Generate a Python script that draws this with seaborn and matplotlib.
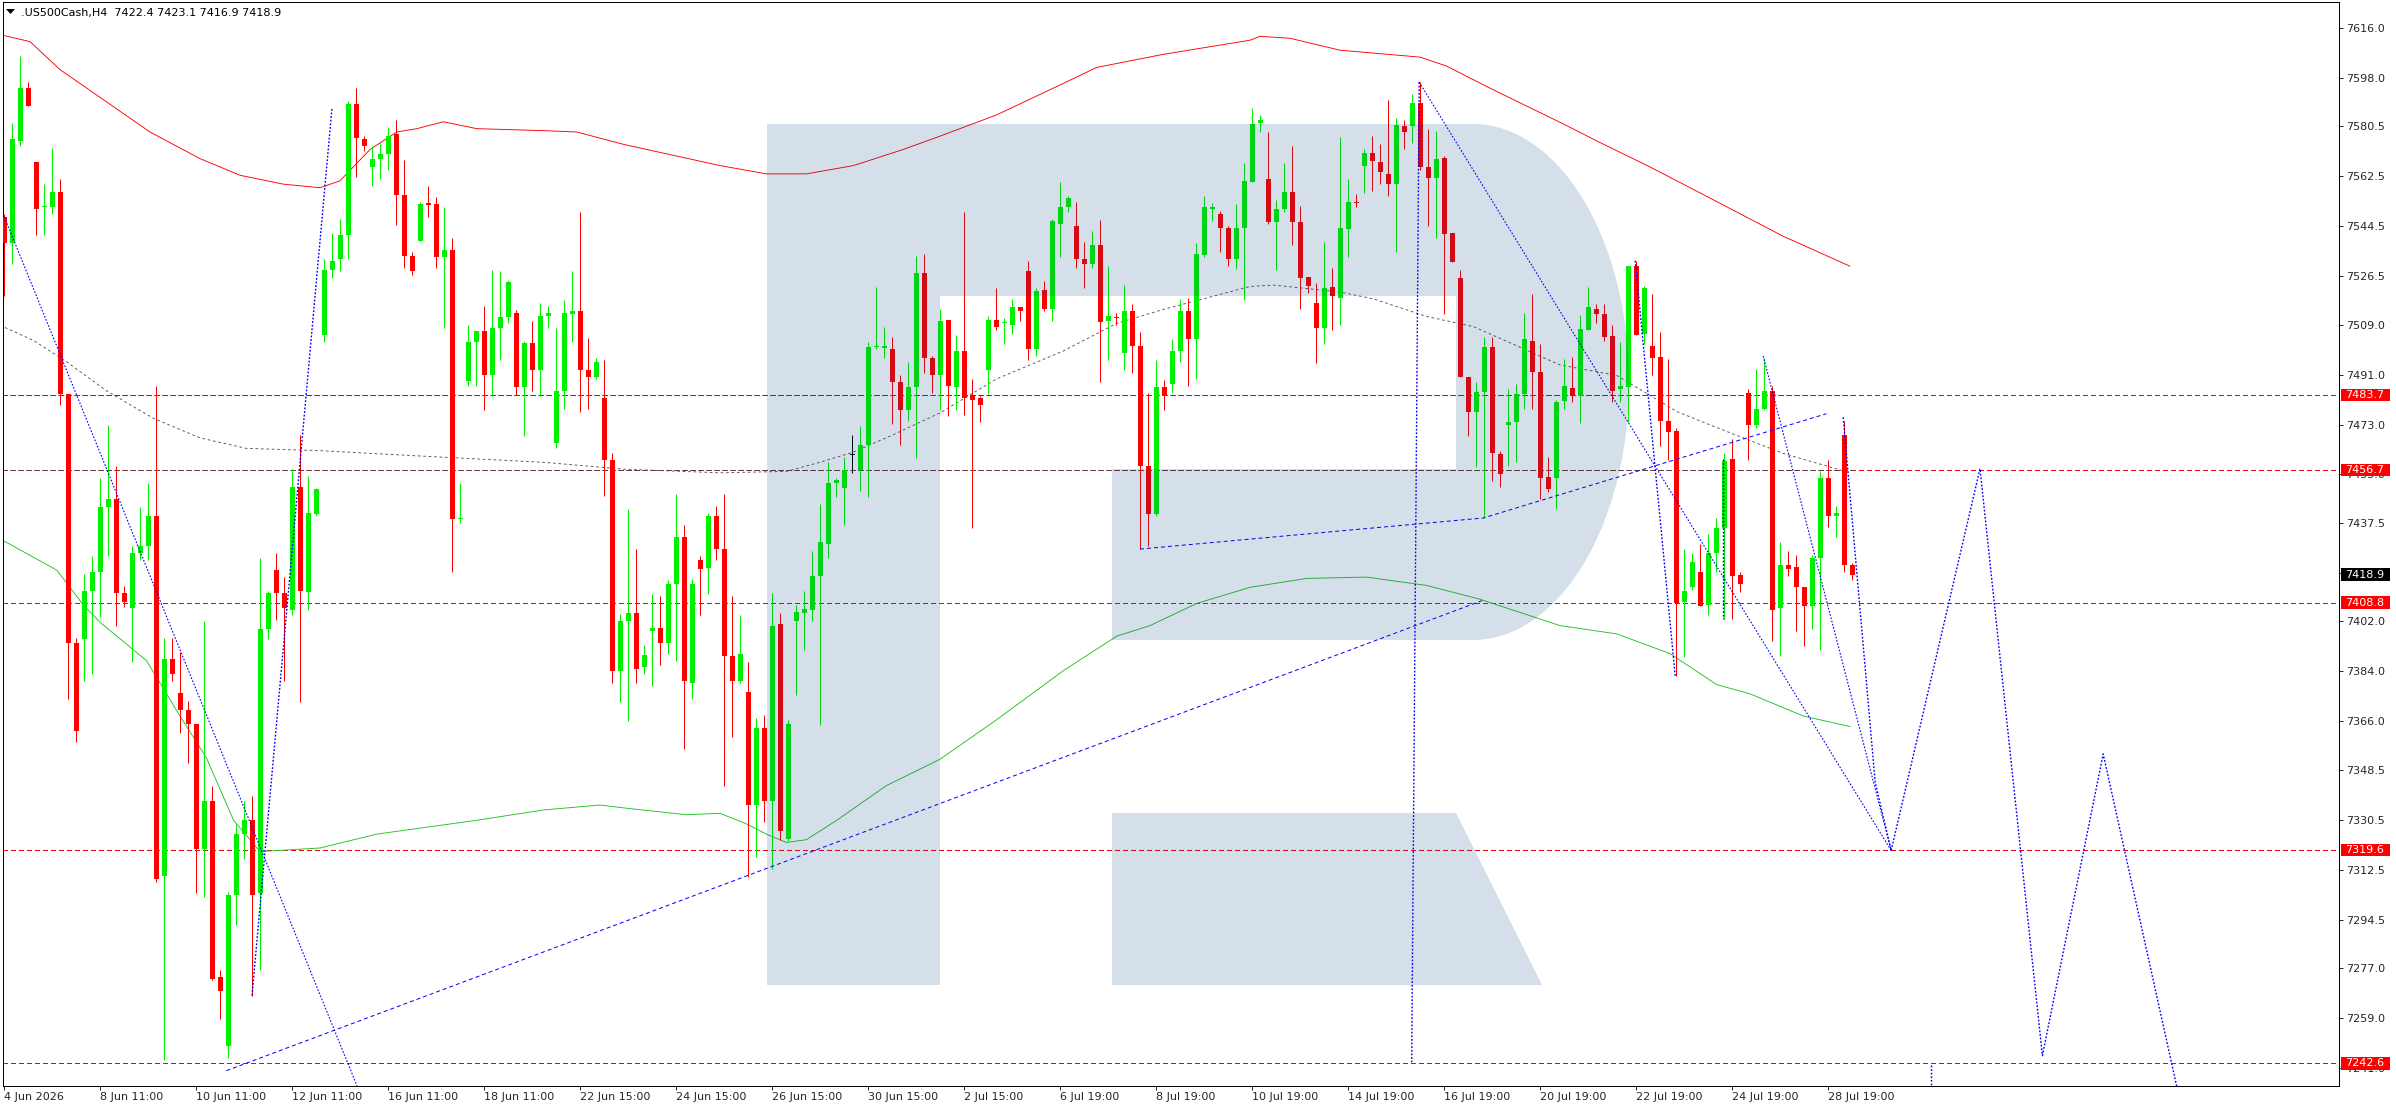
import numpy as np
import matplotlib
matplotlib.use("Agg")
import matplotlib.pyplot as plt
import matplotlib.transforms as mtransforms
from matplotlib.patches import Polygon, Rectangle
import seaborn as sns

# ---- candles (H4) ----
opens = [
    7547.9, 7538.4, 7575.2, 7594.3, 7567.7, 7551.4, 7551.4, 7556.9, 7484.0, 7394.2,
    7395.5, 7413.0, 7419.8, 7443.1, 7446.1, 7412.3, 7406.7, 7426.8, 7429.3, 7440.1,
    7310.2, 7388.4, 7376.2, 7369.9, 7364.9, 7319.8, 7337.3, 7273.9, 7248.8, 7303.2,
    7325.3, 7330.3, 7304.0, 7399.2, 7420.5, 7412.3, 7406.0, 7450.6, 7412.5, 7440.6,
    7505.3, 7528.8, 7532.6, 7541.4, 7588.5, 7576.0, 7565.9, 7568.9, 7570.4, 7577.7,
    7555.9, 7533.8, 7539.1, 7552.9, 7552.6, 7533.3, 7535.8, 7438.8, 7488.7, 7502.8,
    7506.8, 7490.7, 7507.8, 7511.8, 7513.3, 7486.7, 7502.5, 7492.7, 7512.0, 7466.2,
    7485.2, 7513.0, 7514.0, 7492.7, 7490.2, 7482.7, 7460.1, 7384.2, 7402.2, 7405.0,
    7385.4, 7398.7, 7399.7, 7394.2, 7415.5, 7432.3, 7379.9, 7424.0, 7421.3, 7440.1,
    7428.0, 7389.7, 7380.4, 7376.7, 7335.8, 7363.6, 7337.3, 7401.0, 7323.5, 7402.2,
    7405.0, 7406.0, 7418.5, 7430.0, 7451.9, 7450.1, 7462.0, 7456.6, 7465.7, 7500.8,
    7500.5, 7500.3, 7488.2, 7478.2, 7486.7, 7527.8, 7497.0, 7490.7, 7510.8, 7486.5,
    7499.5, 7483.2, 7482.5, 7492.5, 7510.8, 7509.5, 7508.8, 7515.5, 7528.3, 7500.3,
    7521.6, 7514.5, 7545.4, 7551.4, 7544.6, 7532.6, 7530.8, 7537.9, 7510.3, 7511.8,
    7498.7, 7514.0, 7501.3, 7458.1, 7440.6, 7486.5, 7487.5, 7499.5, 7514.0, 7503.8,
    7534.1, 7550.6, 7548.9, 7543.9, 7532.6, 7543.9, 7560.4, 7581.7, 7561.7, 7545.9,
    7550.9, 7556.7, 7545.9, 7526.3, 7517.0, 7507.8, 7522.6, 7518.8, 7543.4, 7553.4,
    7566.4, 7570.9, 7567.7, 7563.4, 7559.7, 7580.5, 7580.5, 7589.0, 7565.9, 7561.9,
    7569.2, 7542.1, 7525.8, 7490.0, 7477.7, 7484.9, 7500.8, 7462.4, 7472.7, 7473.9,
    7483.9, 7503.3, 7492.0, 7454.1, 7453.6, 7481.4, 7486.2, 7483.2, 7507.0, 7514.5,
    7512.8, 7505.0, 7485.7, 7486.5, 7530.1, 7505.8, 7501.3, 7497.5, 7474.4, 7470.7,
    7409.0, 7414.3, 7419.8, 7408.0, 7426.8, 7435.6, 7460.6, 7418.8, 7484.2, 7472.7,
    7478.7, 7485.2, 7406.7, 7422.5, 7421.8, 7414.3, 7407.5, 7425.0, 7453.6, 7440.1,
    7469.4, 7422.4,
]
highs = [
    7548.9, 7581.7, 7606.0, 7596.5, 7567.7, 7559.7, 7572.7, 7561.7, 7484.0, 7396.0,
    7419.0, 7425.5, 7453.6, 7472.7, 7458.1, 7414.8, 7429.3, 7443.1, 7451.9, 7487.0,
    7395.9, 7395.9, 7390.9, 7373.4, 7364.9, 7402.2, 7342.8, 7276.4, 7304.4, 7329.0,
    7337.3, 7339.0, 7425.0, 7413.0, 7426.8, 7418.0, 7456.9, 7469.4, 7454.4, 7450.0,
    7532.8, 7542.1, 7547.1, 7589.7, 7594.3, 7577.0, 7573.5, 7574.7, 7580.2, 7582.7,
    7568.4, 7535.3, 7553.4, 7559.2, 7555.1, 7551.4, 7540.1, 7451.9, 7509.0, 7506.8,
    7515.8, 7528.8, 7528.3, 7525.1, 7514.3, 7503.3, 7510.3, 7517.0, 7515.8, 7507.8,
    7517.8, 7528.3, 7549.6, 7504.3, 7497.0, 7496.2, 7462.6, 7404.7, 7442.6, 7428.0,
    7393.4, 7411.8, 7411.3, 7416.8, 7448.1, 7436.8, 7417.3, 7425.5, 7441.1, 7443.6,
    7448.1, 7411.3, 7404.2, 7387.4, 7367.1, 7368.4, 7412.3, 7405.0, 7366.6, 7408.0,
    7413.0, 7427.3, 7444.3, 7459.4, 7453.6, 7461.4, 7469.4, 7472.4, 7502.8, 7522.6,
    7508.3, 7504.5, 7490.7, 7495.7, 7533.8, 7534.6, 7497.7, 7514.5, 7510.8, 7505.3,
    7549.6, 7489.5, 7483.2, 7512.0, 7522.1, 7511.5, 7518.3, 7515.5, 7532.1, 7522.1,
    7524.8, 7547.1, 7560.4, 7555.4, 7553.4, 7538.9, 7542.9, 7546.6, 7530.1, 7513.3,
    7523.3, 7516.3, 7506.5, 7484.5, 7496.2, 7489.0, 7503.8, 7518.3, 7518.8, 7538.4,
    7555.4, 7552.9, 7550.1, 7544.6, 7552.6, 7567.2, 7587.2, 7584.7, 7578.5, 7553.9,
    7567.2, 7573.5, 7551.9, 7526.3, 7524.1, 7538.9, 7529.6, 7576.7, 7561.7, 7556.1,
    7572.2, 7577.0, 7574.2, 7590.2, 7583.5, 7583.0, 7592.2, 7596.5, 7579.7, 7579.0,
    7569.9, 7542.1, 7528.8, 7490.0, 7488.2, 7504.5, 7504.5, 7463.6, 7485.7, 7487.7,
    7513.3, 7520.1, 7502.0, 7461.4, 7481.9, 7496.5, 7497.5, 7512.5, 7522.6, 7516.5,
    7516.5, 7508.8, 7502.8, 7530.1, 7532.1, 7522.8, 7520.1, 7506.3, 7496.5, 7471.9,
    7428.0, 7426.8, 7430.0, 7433.5, 7439.3, 7462.6, 7467.7, 7419.8, 7485.7, 7493.2,
    7497.0, 7487.0, 7430.5, 7427.3, 7426.0, 7414.3, 7426.0, 7456.1, 7460.1, 7443.6,
    7474.4, 7423.1,
]
lows = [
    7519.5, 7530.8, 7573.5, 7588.0, 7541.4, 7541.4, 7548.9, 7480.2, 7374.1, 7358.4,
    7380.4, 7382.9, 7403.5, 7425.5, 7400.5, 7407.2, 7387.2, 7424.3, 7424.3, 7308.2,
    7243.8, 7380.4, 7361.6, 7350.8, 7303.9, 7302.7, 7272.6, 7258.8, 7244.5, 7292.7,
    7316.5, 7267.1, 7276.4, 7395.5, 7402.5, 7380.4, 7404.2, 7373.0, 7406.0, 7440.0,
    7502.8, 7525.8, 7528.3, 7532.8, 7562.2, 7571.7, 7558.9, 7561.4, 7564.7, 7545.1,
    7529.3, 7527.1, 7539.1, 7547.9, 7529.6, 7507.8, 7419.8, 7437.6, 7487.0, 7487.0,
    7478.2, 7483.2, 7496.2, 7509.5, 7483.7, 7468.9, 7485.2, 7483.2, 7507.8, 7464.4,
    7478.7, 7502.8, 7477.4, 7478.7, 7489.5, 7447.4, 7379.7, 7372.9, 7366.1, 7379.7,
    7382.9, 7378.7, 7386.2, 7390.4, 7387.9, 7356.1, 7374.1, 7404.2, 7411.8, 7424.3,
    7342.8, 7360.4, 7379.9, 7309.7, 7317.2, 7329.5, 7312.7, 7323.3, 7322.8, 7375.4,
    7391.7, 7402.2, 7364.6, 7424.8, 7446.9, 7436.8, 7455.6, 7448.9, 7446.9, 7500.3,
    7497.0, 7473.2, 7465.7, 7474.4, 7461.1, 7491.5, 7484.5, 7478.2, 7476.2, 7478.2,
    7476.4, 7435.6, 7473.9, 7484.0, 7507.0, 7502.0, 7505.8, 7510.3, 7496.2, 7497.7,
    7513.8, 7510.3, 7533.3, 7549.6, 7529.6, 7522.1, 7529.6, 7488.2, 7496.2, 7508.8,
    7492.7, 7491.5, 7428.1, 7429.3, 7440.1, 7478.2, 7484.5, 7495.7, 7487.0, 7489.5,
    7533.3, 7546.4, 7535.3, 7530.1, 7529.1, 7517.8, 7560.4, 7578.5, 7545.4, 7528.8,
    7549.6, 7537.9, 7514.5, 7520.3, 7495.2, 7502.0, 7507.0, 7508.8, 7533.3, 7551.4,
    7556.4, 7557.2, 7559.7, 7555.4, 7535.3, 7572.2, 7574.7, 7564.7, 7544.6, 7540.1,
    7512.8, 7531.6, 7490.0, 7468.7, 7457.6, 7439.3, 7452.6, 7450.6, 7458.1, 7459.4,
    7478.7, 7478.7, 7446.1, 7448.6, 7442.6, 7478.7, 7481.2, 7473.7, 7507.0, 7509.5,
    7503.3, 7481.2, 7481.2, 7473.9, 7505.3, 7502.0, 7490.7, 7465.2, 7460.1, 7382.4,
    7389.2, 7413.5, 7407.5, 7404.2, 7420.0, 7403.0, 7403.0, 7412.5, 7460.1, 7471.9,
    7478.2, 7395.0, 7389.7, 7418.5, 7398.5, 7393.0, 7399.2, 7391.7, 7436.1, 7432.6,
    7420.0, 7416.9,
]
closes = [
    7538.4, 7576.0, 7594.3, 7588.0, 7550.9, 7551.9, 7556.9, 7484.0, 7394.2, 7362.4,
    7413.0, 7419.8, 7443.1, 7446.1, 7412.3, 7409.0, 7426.8, 7429.3, 7440.1, 7309.0,
    7388.4, 7382.9, 7369.9, 7364.9, 7319.8, 7337.3, 7273.1, 7268.9, 7303.2, 7325.3,
    7330.3, 7303.2, 7399.2, 7412.3, 7412.3, 7406.7, 7450.6, 7413.0, 7441.1, 7449.9,
    7528.8, 7532.1, 7541.4, 7588.5, 7576.5, 7573.5, 7568.9, 7570.4, 7577.2, 7555.9,
    7533.8, 7528.3, 7552.6, 7552.1, 7533.3, 7535.8, 7438.8, 7439.3, 7502.8, 7506.8,
    7490.7, 7507.8, 7511.8, 7524.3, 7486.7, 7502.5, 7492.7, 7512.0, 7513.3, 7485.2,
    7513.3, 7514.0, 7492.7, 7490.2, 7495.7, 7460.1, 7384.2, 7402.2, 7405.0, 7384.9,
    7389.9, 7399.7, 7394.2, 7415.5, 7432.3, 7380.4, 7415.5, 7421.0, 7440.1, 7428.0,
    7389.7, 7380.4, 7390.4, 7335.8, 7363.6, 7337.3, 7400.5, 7326.5, 7364.9, 7405.5,
    7406.5, 7418.5, 7430.5, 7451.9, 7453.1, 7456.6, 7462.0, 7465.7, 7500.8, 7501.5,
    7501.5, 7488.2, 7478.2, 7486.7, 7527.8, 7497.0, 7490.7, 7510.3, 7487.0, 7499.5,
    7482.7, 7482.0, 7480.2, 7510.8, 7508.3, 7509.8, 7515.5, 7513.8, 7500.3, 7521.3,
    7514.5, 7546.4, 7551.4, 7554.6, 7532.8, 7530.8, 7537.9, 7510.0, 7512.0, 7511.3,
    7514.0, 7501.3, 7458.1, 7440.6, 7486.5, 7483.2, 7499.5, 7514.0, 7503.8, 7534.6,
    7551.4, 7551.4, 7543.9, 7532.6, 7543.9, 7560.9, 7581.5, 7583.0, 7545.9, 7550.9,
    7556.7, 7545.9, 7525.8, 7522.8, 7507.8, 7522.1, 7519.3, 7543.9, 7553.4, 7552.9,
    7570.9, 7567.9, 7563.9, 7559.7, 7581.0, 7578.5, 7589.0, 7565.9, 7561.9, 7568.9,
    7541.6, 7531.6, 7490.0, 7477.7, 7484.9, 7500.8, 7462.6, 7455.1, 7473.9, 7483.9,
    7503.8, 7492.0, 7453.6, 7449.9, 7481.2, 7487.0, 7483.2, 7507.5, 7515.3, 7513.0,
    7504.5, 7485.2, 7487.0, 7530.1, 7505.3, 7522.1, 7497.0, 7474.4, 7470.2, 7408.5,
    7413.0, 7423.5, 7407.5, 7426.8, 7435.6, 7459.9, 7418.5, 7415.5, 7472.7, 7478.7,
    7485.0, 7406.0, 7422.5, 7421.0, 7414.3, 7407.5, 7425.0, 7453.6, 7440.1, 7441.1,
    7422.5, 7418.9,
]

date_labels = ["4 Jun 2026", "8 Jun 11:00", "10 Jun 11:00", "12 Jun 11:00", "16 Jun 11:00",
               "18 Jun 11:00", "22 Jun 15:00", "24 Jun 15:00", "26 Jun 15:00", "30 Jun 15:00",
               "2 Jul 15:00", "6 Jul 19:00", "8 Jul 19:00", "10 Jul 19:00", "14 Jul 19:00",
               "16 Jul 19:00", "20 Jul 19:00", "22 Jul 19:00", "24 Jul 19:00", "28 Jul 19:00"]
price_ticks = [7616.0, 7598.0, 7580.5, 7562.5, 7544.5, 7526.5, 7509.0, 7491.0, 7473.0, 7455.0,
               7437.5, 7419.5, 7402.0, 7384.0, 7366.0, 7348.5, 7330.5, 7312.5, 7294.5, 7277.0,
               7259.0, 7241.0]
levels = [7483.7, 7456.7, 7408.8, 7319.6, 7242.6]
last_price = 7418.9
header = ".US500Cash,H4  7422.4 7423.1 7416.9 7418.9"

# ---- moving averages (bar index, price) ----
ma_red_x = [-0.5, 3.25, 7, 12, 18.25, 24.5, 29.5, 34.9, 39.5, 42, 45.75, 49.1, 51.6, 54.9, 59.1,
            67.4, 71.6, 77.5, 89.5, 95.3, 100.3, 106.2, 112.4, 117, 124.1, 132.4, 136.6, 144.9,
            155.75, 157, 160.75, 167, 177, 180.3, 185.75, 194.5, 199.5, 205.75, 214.1, 222.4, 230.75]
ma_red_y = [7613.6, 7611.1, 7601.0, 7591.0, 7578.5, 7568.9, 7562.9, 7559.7, 7558.4, 7560.9, 7572.2,
            7578.5, 7579.7, 7582.2, 7579.7, 7579.0, 7578.5, 7574.0, 7566.4, 7563.4, 7563.4, 7566.4,
            7572.2, 7577.0, 7584.7, 7596.0, 7601.8, 7606.5, 7611.6, 7613.0, 7612.3, 7608.0, 7605.5,
            7602.3, 7594.3, 7582.0, 7574.7, 7565.9, 7553.4, 7540.9, 7530.1]
ma_green_x = [-0.5, 6.6, 9.9, 12, 17.8, 22, 25.3, 28.7, 32, 39.5, 46.6, 59.1, 67.4, 74.5, 78.25,
              85.3, 89.5, 92.8, 95.3, 97.8, 100.3, 104.1, 110.3, 117, 124.1, 132.4, 139.1, 143.25,
              149.1, 155.75, 162.8, 170.3, 177.8, 184.5, 194.5, 201.6, 208.25, 214.1, 218.25,
              224.9, 230.75]
ma_green_y = [7431.8, 7420.5, 7408.0, 7401.7, 7387.9, 7367.9, 7352.8, 7330.3, 7319.0, 7320.3,
              7325.3, 7330.3, 7334.0, 7335.8, 7334.5, 7332.3, 7332.8, 7329.0, 7325.3, 7322.3,
              7323.3, 7330.3, 7342.8, 7352.3, 7366.6, 7384.2, 7396.7, 7400.5, 7408.5, 7414.3,
              7417.5, 7418.0, 7415.0, 7410.0, 7400.5, 7397.5, 7390.4, 7379.2, 7375.9, 7367.9,
              7364.1]
ma_gray_x = [-0.5, 3.7, 7.8, 12.8, 18.7, 24.5, 30.3, 39.5, 45.75, 55.75, 67.4, 77.5, 89.5, 97.8,
             102, 106.2, 111.2, 117, 124.1, 132.4, 139.1, 144.9, 155.75, 158.7, 167, 171.2, 177.8,
             183.7, 194.5, 201.6, 209.1, 214.1, 222.4, 230.75]
ma_gray_y = [7508.8, 7503.3, 7495.7, 7485.2, 7475.2, 7468.2, 7464.4, 7463.6, 7462.6, 7461.1,
             7459.4, 7456.9, 7455.6, 7456.1, 7459.4, 7463.1, 7469.4, 7477.2, 7489.5, 7499.5,
             7509.5, 7514.5, 7522.8, 7523.3, 7520.8, 7518.3, 7512.0, 7508.3, 7494.5, 7490.7,
             7477.7, 7471.9, 7462.6, 7455.6]

# ---- blue analysis lines (bar index, price) ----
trend_a_x, trend_a_y = [-0.1, 45.0], [7548.9, 7228.3]
zig_b_x, zig_b_y = [31, 41], [7267.1, 7587.2]
trend_c_x, trend_c_y = [27.8, 184.75], [7240.0, 7409.5]
trend_d_x, trend_d_y = [142, 184.9, 227.8], [7428.1, 7439.3, 7476.9]
vert_e_x, vert_e_y = [176.9, 175.96], [7596.5, 7243.0]
fall_f_x, fall_f_y = [176.9, 235.9], [7596.5, 7319.4]
fall_g_x, fall_g_y = [203.9, 208.9], [7532.1, 7382.4]
vert_h_x, vert_h_y = [214.9, 214.9], [7460.6, 7402.9]
fall_i_x, fall_i_y = [219.9, 235.9], [7497.7, 7319.4]
fall_j_x, fall_j_y = [229.9, 233.9, 235.9], [7475.6, 7344.0, 7319.4]
forecast_x = [235.9, 247.0, 254.8, 262.4, 272.0]
forecast_y = [7319.4, 7457.1, 7245.4, 7354.2, 7229.0]
vert_k_x, vert_k_y = [240.9, 240.9], [7242.0, 7228.0]

# ---- style ----
sns.set_style("white")
plt.rcParams["font.family"] = ["DejaVu Sans"]
FS = 8
PX = 0.72  # one pixel in points at 100 dpi

W, H = 2396, 1110
fig = plt.figure(figsize=(W / 100, H / 100), dpi=100)
ax = fig.add_axes([3 / W, (H - 1086) / H, 2336 / W, 1084 / H])

n = len(opens)
idx = np.arange(n)
o = np.array(opens); c = np.array(closes)
cols = np.where(c > o, "#00f000", np.where(c < o, "#ff0000", "#000000"))

# level lines
for lv in levels:
    ax.axhline(lv, color="#ff0000", lw=PX, linestyle=(0, (5, 3)), zorder=1, antialiased=False)
for lv in levels[:2]:
    ax.hlines(lv, -0.2, 231, color="#404040", lw=PX, linestyle=(0, (5, 3)), alpha=0.75,
              zorder=1.5, antialiased=False)

# moving averages
sns.lineplot(x=ma_red_x, y=ma_red_y, ax=ax, color="#ff0000", lw=0.65, estimator=None, sort=False,
             zorder=2)
sns.lineplot(x=ma_green_x, y=ma_green_y, ax=ax, color="#22c322", lw=0.65, estimator=None,
             sort=False, zorder=2)
sns.lineplot(x=ma_gray_x, y=ma_gray_y, ax=ax, color="#555555", lw=0.65, linestyle=(0, (3, 3)),
             estimator=None, sort=False, zorder=2)

# candles
ax.vlines(idx, lows, highs, colors=cols, lw=PX, zorder=3)
body_low = np.minimum(o, c)
body_h = np.maximum(np.abs(c - o), 0.4)
ax.bar(idx, body_h, bottom=body_low, width=0.625, color=cols, lw=0, zorder=3)

# blue lines
dotted = dict(color="#0000ff", lw=1.0, linestyle=(0, (1.3, 1.3)), estimator=None, sort=False, zorder=4)
fine = dict(color="#0000ff", lw=0.8, linestyle=(0, (1.5, 1.5)), estimator=None, sort=False, zorder=4)
dashed = dict(color="#0000ff", lw=PX, linestyle=(0, (4, 3)), estimator=None, sort=False, zorder=4)
sns.lineplot(x=trend_a_x, y=trend_a_y, ax=ax, **fine)
sns.lineplot(x=zig_b_x, y=zig_b_y, ax=ax, **dotted)
sns.lineplot(x=trend_c_x, y=trend_c_y, ax=ax, **dashed)
sns.lineplot(x=trend_d_x, y=trend_d_y, ax=ax, **dashed)
sns.lineplot(x=vert_e_x, y=vert_e_y, ax=ax, **dotted)
sns.lineplot(x=fall_f_x, y=fall_f_y, ax=ax, **fine)
sns.lineplot(x=fall_g_x, y=fall_g_y, ax=ax, **dotted)
sns.lineplot(x=vert_h_x, y=vert_h_y, ax=ax, **dotted)
sns.lineplot(x=fall_i_x, y=fall_i_y, ax=ax, **fine)
sns.lineplot(x=fall_j_x, y=fall_j_y, ax=ax, **dotted)
sns.lineplot(x=forecast_x, y=forecast_y, ax=ax, **dotted)
sns.lineplot(x=vert_k_x, y=vert_k_y, ax=ax, **dotted)

# axes
ax.set_xlim(-0.125, 291.875)
ax.set_ylim(7234.47, 7625.38)
ax.set_xlabel("")
ax.set_ylabel("")
ax.set_xticks(np.arange(0, n, 12))
ax.set_xticklabels(date_labels, ha="left", fontsize=FS)
ax.set_yticks(price_ticks)
ax.set_yticklabels([f"{v:.1f}" for v in price_ticks], fontsize=FS)
ax.tick_params(axis="y", left=False, right=True, labelleft=False, labelright=True,
               direction="out", length=3, width=PX, pad=2)
ax.tick_params(axis="x", bottom=True, direction="out", length=3, width=PX, pad=1.5)
for sp in ax.spines.values():
    sp.set_visible(True)
    sp.set_color("black")
    sp.set_linewidth(PX)

# price boxes on the scale
blend = mtransforms.blended_transform_factory(ax.transAxes, ax.transData)
fx = lambda px: (px - 3) / 2336
for lv, fc in [(v, "#ff0000") for v in levels] + [(last_price, "#000000")]:
    ax.add_patch(Rectangle((fx(2341), lv - 2.2), 49 / 2336, 4.4, transform=blend,
                           facecolor=fc, lw=0, clip_on=False, zorder=20))
    ax.text(fx(2345), lv, f"{lv:.1f}", transform=blend, color="white", fontsize=FS,
            va="center", ha="left", clip_on=False, zorder=21)

# header
fig.add_artist(Polygon([(6 / W, 1 - 9 / H), (15 / W, 1 - 9 / H), (10.5 / W, 1 - 14 / H)],
                       closed=True, transform=fig.transFigure, facecolor="black", lw=0))
fig.text(21 / W, 1 - 13 / H, header, fontsize=FS, va="center", ha="left", color="black")

# watermark logo, laid over the chart like a multiply layer
t = np.linspace(-np.pi / 2, np.pi / 2, 80)
arc = [(1473 + 156 * np.cos(a), 382 + 258 * np.sin(a)) for a in t]
bowl = [(767, 124)] + arc + [(1112, 640), (1112, 469), (1456, 469), (1456, 296),
                             (940, 296), (940, 985), (767, 985)]
leg = [(1112, 813), (1456, 813), (1542, 985), (1112, 985)]
for shape in (bowl, leg):
    pts = [(x / W, 1 - y / H) for x, y in shape]
    fig.add_artist(Polygon(pts, closed=True, transform=fig.transFigure,
                           facecolor=(0, 61 / 255, 128 / 255), alpha=0.165, lw=0, zorder=6))

fig.savefig("out.png", dpi=100, facecolor="white")
